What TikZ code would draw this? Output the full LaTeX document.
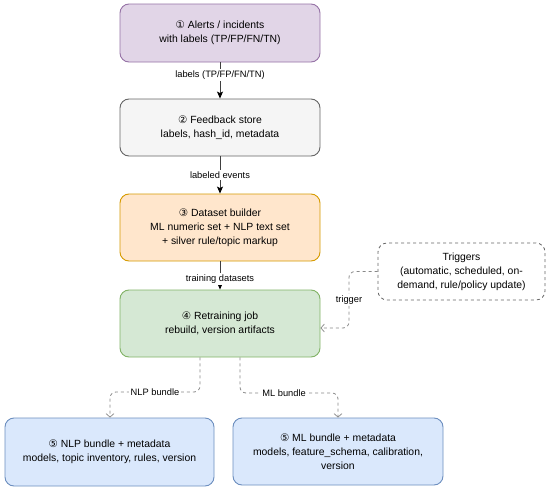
\documentclass[tikz,border=0pt]{standalone}
\usepackage{fontspec}
\setmainfont{Liberation Sans}
\newfontfamily\symf{DejaVu Sans}
\usetikzlibrary{arrows.meta}
\definecolor{purfill}{HTML}{E1D5E7}\definecolor{purdraw}{HTML}{9673A6}
\definecolor{gryfill}{HTML}{F5F5F5}\definecolor{grydraw}{HTML}{666666}
\definecolor{orgfill}{HTML}{FFE6CC}\definecolor{orgdraw}{HTML}{D79B00}
\definecolor{grnfill}{HTML}{D5E8D4}\definecolor{grndraw}{HTML}{82B366}
\definecolor{blufill}{HTML}{DAE8FC}\definecolor{bludraw}{HTML}{6C8EBF}
\definecolor{dashc}{HTML}{888888}
\newcommand{\cn}[1]{{\symf #1}}
\tikzset{
  boxbase/.style={rectangle, rounded corners=9pt, line width=0.9pt, align=center,
    inner sep=2pt, font=\fontsize{10.4}{14}\selectfont},
  purbox/.style={boxbase, fill=purfill, draw=purdraw},
  grybox/.style={boxbase, fill=gryfill, draw=grydraw},
  orgbox/.style={boxbase, fill=orgfill, draw=orgdraw},
  grnbox/.style={boxbase, fill=grnfill, draw=grndraw},
  blubox/.style={boxbase, fill=blufill, draw=bludraw},
  trigbox/.style={boxbase, draw=grydraw, dashed, dash pattern=on 3pt off 3pt, line width=0.8pt},
  arr/.style={draw=black!75, line width=0.9pt, -{Stealth[length=7pt,width=6pt,inset=1.5pt,color=black]}},
  darr/.style={draw=dashc, line width=0.8pt, dash pattern=on 3pt off 3pt, rounded corners=6pt,
    -{Straight Barb[length=3.5pt,width=8pt,line width=0.7pt]}},
  lbl/.style={fill=white, inner sep=1.5pt, font=\fontsize{9.3}{11}\selectfont, text=black}
}
\begin{document}
\begin{tikzpicture}[x=1pt,y=-1pt]
\useasboundingbox[fill=white] (0,0) rectangle (550,490);
\node[purbox, minimum width=200pt, minimum height=58pt] (b1) at (220,33)
  {\cn{①} Alerts / incidents\\with labels (TP/FP/FN/TN)};
\node[grybox, minimum width=200pt, minimum height=57pt] (b2) at (220,127.5)
  {\cn{②} Feedback store\\labels, hash\_id, metadata};
\node[orgbox, minimum width=200pt, minimum height=67pt] (b3) at (220,227.5)
  {\cn{③} Dataset builder\\ML numeric set + NLP text set\\+ silver rule/topic markup};
\node[grnbox, minimum width=200pt, minimum height=67pt] (b4) at (220,323.5)
  {\cn{④} Retraining job\\rebuild, version artifacts};
\node[trigbox, minimum width=167pt, minimum height=57pt] (trig) at (461.5,271.5)
  {Triggers\\(automatic, scheduled, on-\\demand, rule/policy update)};
\node[blubox, minimum width=209pt, minimum height=68pt] (nlp) at (109.5,452)
  {\cn{⑤} NLP bundle + metadata\\models, topic inventory, rules, version};
\node[blubox, minimum width=210pt, minimum height=67pt] (ml) at (338,451.5)
  {\cn{⑤} ML bundle + metadata\\models, feature\_schema, calibration,\\version};

\draw[arr] (b1) -- node[lbl, pos=0.35]{labels (TP/FP/FN/TN)} (b2);
\draw[arr] (b2) -- node[lbl, pos=0.5]{labeled events} (b3);
\draw[arr] (b3) -- node[lbl, pos=0.62]{training datasets} (b4);

\coordinate (t1) at (349,271.5);
\coordinate (t2) at (349,328);
\draw[darr] (trig.west) -- (t1) -- node[lbl]{trigger} (t2) -- (b4.east |- t2);

\coordinate (n0) at ([xshift=-20pt]b4.south);
\coordinate (n1) at (200,392);
\coordinate (n2) at (110,392);
\draw[darr] (n0) -- (n1) -- node[lbl]{NLP bundle} (n2) -- (n2 |- nlp.north);

\coordinate (m0) at ([xshift=20pt]b4.south);
\coordinate (m1) at (240,393);
\coordinate (m2) at (338,393);
\draw[darr] (m0) -- (m1) -- node[lbl, pos=0.45]{ML bundle} (m2) -- (m2 |- ml.north);
\end{tikzpicture}
\end{document}
